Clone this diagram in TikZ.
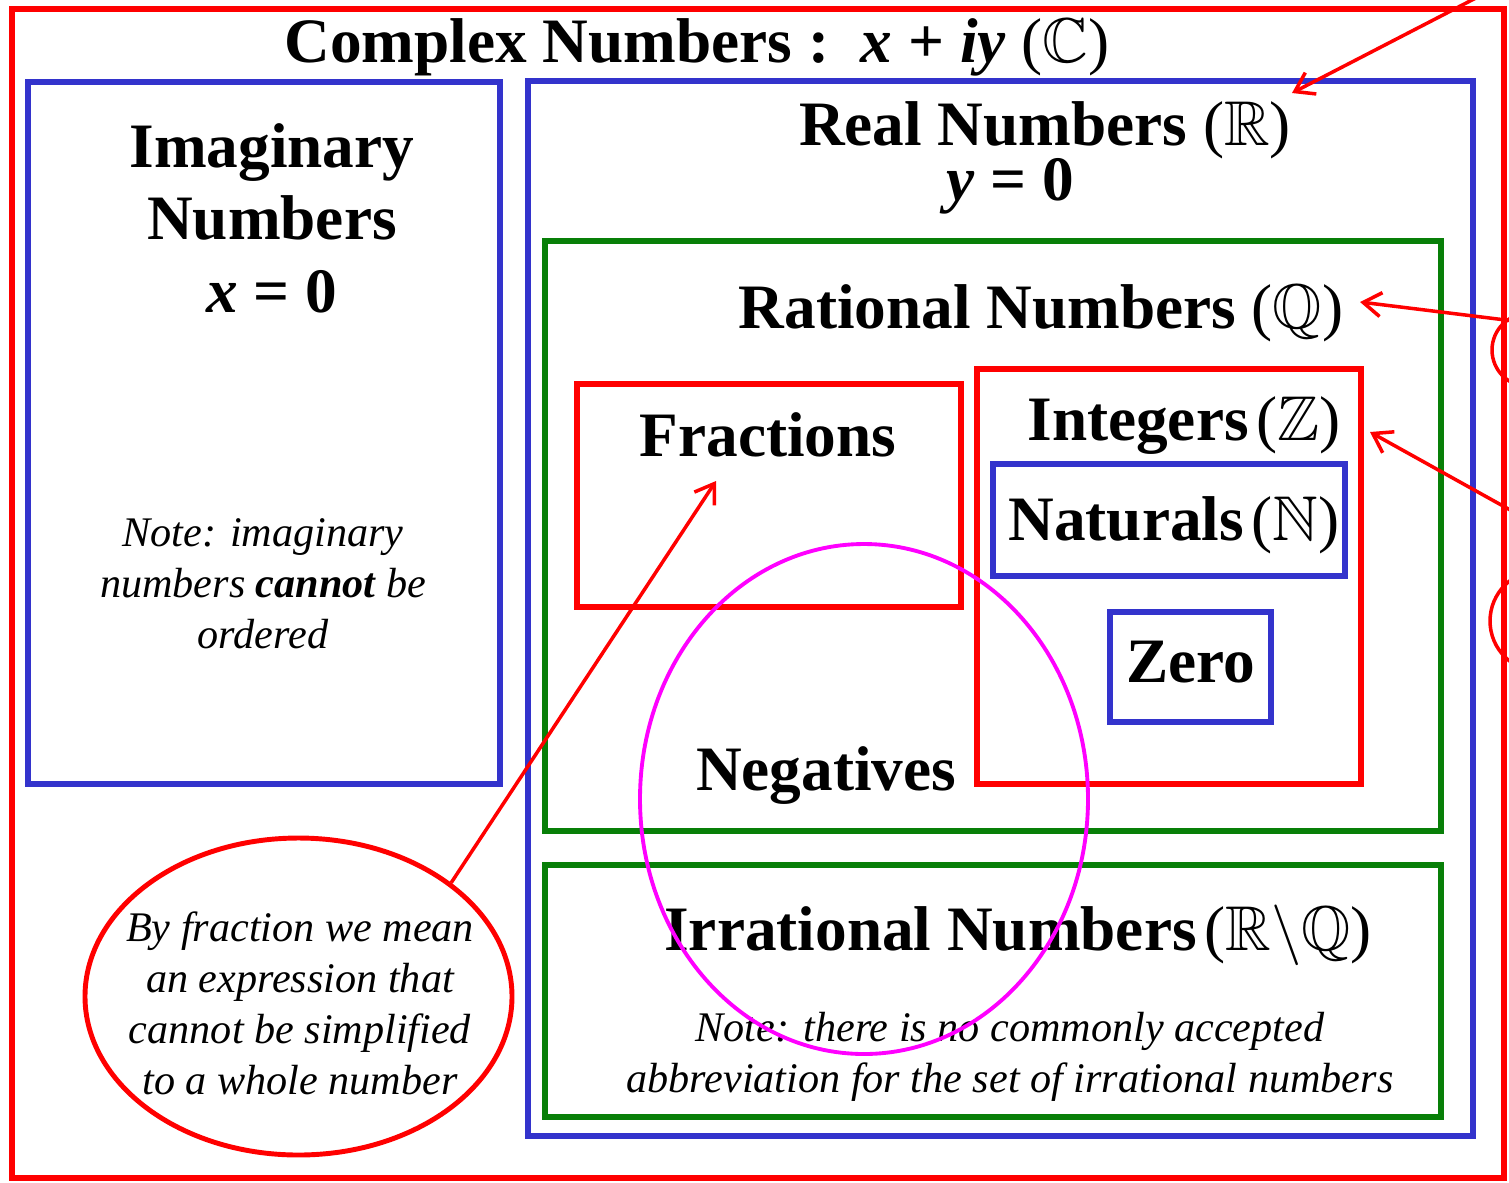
\documentclass[tikz,border=0pt]{standalone}
\usepackage{amssymb}
\usepackage{fontspec}
\setmainfont{Liberation Serif}
\usetikzlibrary{arrows.meta,positioning,shapes.geometric}
\DeclareRobustCommand{\nset}[1]{\textnormal{(}$#1$\textnormal{)}}
\definecolor{NSRed}{HTML}{FF0000}
\definecolor{NSBlue}{HTML}{3333CC}
\definecolor{NSGreen}{HTML}{087F08}
\definecolor{NSPink}{HTML}{FF00FF}
\tikzset{
  nsBox/.style={
    rectangle, draw=#1, line width=1.7pt, fill=none, inner sep=0pt
  },
  nsBox/.default=NSBlue,
  nsRing/.style={ellipse, draw=#1, line width=1.3pt, inner sep=0pt},
  nsRing/.default=NSRed,
  nsLabel/.style={
    anchor=base, align=center, inner sep=0pt,
    font=\fontsize{18}{20.5}\selectfont\bfseries
  },
  nsNote/.style={
    anchor=base, align=center, inner sep=0pt,
    font=\fontsize{12}{14.5}\selectfont\itshape
  },
  nsArrow/.style={-{Straight Barb[length=1.8mm,width=2.4mm]}, draw=NSRed, line width=1pt},
  nsArc/.style={draw=NSRed, line width=1pt}
}
\begin{document}
\begin{tikzpicture}[x=0.1mm, y=-0.1mm]
  \clip (0,0) rectangle (1509,1182);
  \node[nsBox=NSRed, minimum width=149.2mm, minimum height=116.9mm] (cplx) at (758,593.5) {};
  \node[nsLabel] (cplxLbl) at (697,62) {Complex Numbers :\ \ \textit{x} + \textit{iy} \nset{\mathbb{C}}};

  \node[nsBox, minimum width=47.2mm, minimum height=70.2mm] (imag) at (264,433) {};
  \node[nsLabel] (imagLbl) at (272,312) {Imaginary\\Numbers\\\textit{x} = 0};
  \node[nsNote] (imagNote) at (263,648) {Note: imaginary\\numbers \textbf{cannot} be\\ordered};

  \node[nsBox, minimum width=94.5mm, minimum height=105.5mm] (real) at (1000.5,608.5) {};
  \node[nsLabel] (realLbl) at (1045,145) {Real Numbers \nset{\mathbb{R}}};
  \node[nsLabel] (realEq) at (1010,200) {\textit{y} = 0};

  \node[nsBox=NSGreen, minimum width=89.6mm, minimum height=59mm] (rat) at (993,536) {};
  \node[nsLabel] (ratLbl) at (1041,328) {Rational Numbers \nset{\mathbb{Q}}};
  \node[nsBox=NSRed, minimum width=38.4mm, minimum height=22.3mm] (frac) at (769,495.5) {};
  \node[nsLabel] (fracLbl) at (768,456) {Fractions};
  \node[nsBox=NSRed, minimum width=38.4mm, minimum height=41.5mm] (int) at (1169,576.5) {};
  \node[nsLabel] (intLbl) at (1184,440) {Integers\hspace{0.12em}\nset{\mathbb{Z}}};
  \node[nsBox, minimum width=35.2mm, minimum height=11.2mm] (nat) at (1169,519.5) {};
  \node[nsLabel] (natLbl) at (1174,540) {Naturals\hspace{0.12em}\nset{\mathbb{N}}};
  \node[nsBox, minimum width=16.1mm, minimum height=11mm] (zero) at (1190.5,667) {};
  \node[nsLabel] (zeroLbl) at (1191,682) {Zero};
  \node[nsLabel] (negLbl) at (826,790) {Negatives};

  \node[nsBox=NSGreen, minimum width=89.6mm, minimum height=25.2mm] (irr) at (993,991) {};
  \node[nsLabel] (irrLbl) at (1018,950) {Irrational Numbers\hspace{0.12em}\nset{\mathbb{R}\backslash\mathbb{Q}}};
  \node[nsNote] (irrNote) at (1010,1092) {Note: there is no commonly accepted\\abbreviation for the set of irrational numbers};

  \node[nsRing=NSPink, line width=1.1pt, minimum width=44.8mm, minimum height=51mm] (negRing) at (864,799) {};

  \node[nsRing, line width=1.4pt, minimum width=42.7mm, minimum height=31.7mm] (noteRing) at (298.5,996.5) {};
  \node[nsNote] (noteTxt) at (300,1094) {By fraction we mean\\an expression that\\cannot be simplified\\to a whole number};

  \coordinate (fracTip) at (716,481);
  \coordinate (realSrc) at (1530,-30);
  \coordinate (realTip) at (1292,93);
  \coordinate (ratSrc) at (1530,323);
  \coordinate (ratTip) at (1360,302);
  \coordinate (intSrc) at (1530,521);
  \coordinate (intTip) at (1370,432);

  \draw[nsArrow] (noteRing.north east) -- (fracTip);
  \draw[nsArrow] (realSrc) -- (realTip);
  \draw[nsArrow] (ratSrc) -- (ratTip);
  \draw[nsArrow] (intSrc) -- (intTip);

  \draw[nsArc] (1528.6,350) circle[radius=3.66mm];
  \draw[nsArc] (1540.7,621) circle[radius=5.07mm];
\end{tikzpicture}
\end{document}
